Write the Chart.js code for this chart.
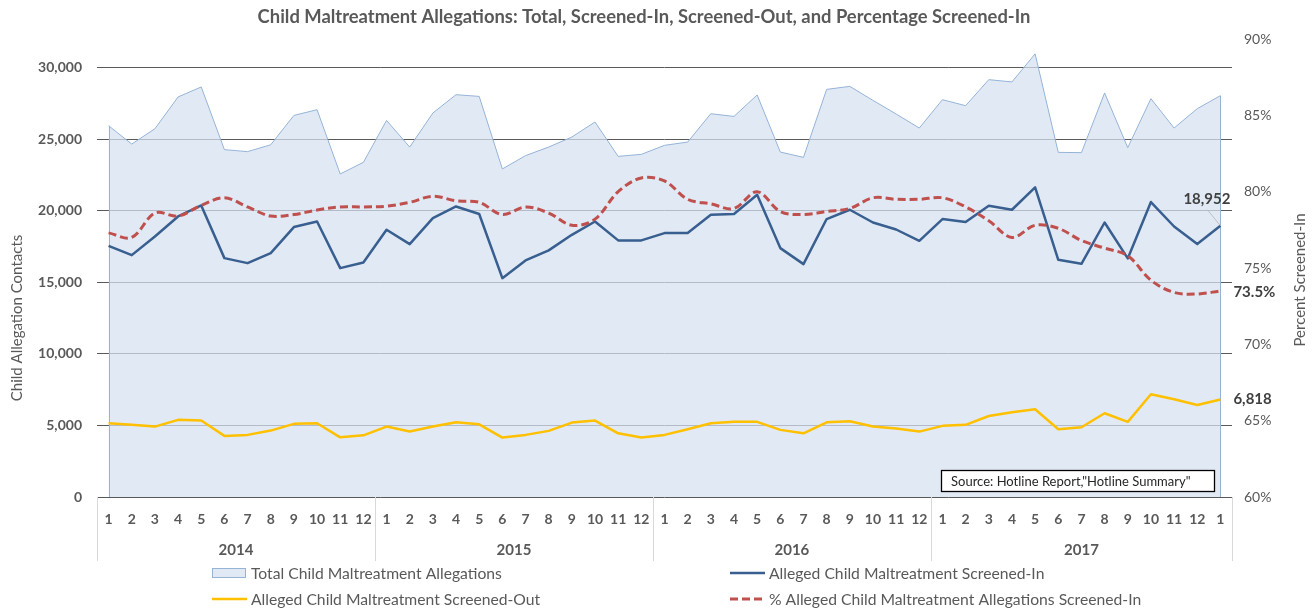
<!DOCTYPE html>
<html>
<head>
<meta charset="utf-8">
<script src="https://cdn.jsdelivr.net/npm/chart.js@4.4.0/dist/chart.umd.min.js"></script>
<style>
  html, body { margin: 0; padding: 0; background: #fff; }
</style>
</head>
<body>
<canvas id="chart" width="1312" height="610"></canvas>
<script>
// --- DATA ---
const months = [1,2,3,4,5,6,7,8,9,10,11,12, 1,2,3,4,5,6,7,8,9,10,11,12,
                1,2,3,4,5,6,7,8,9,10,11,12, 1,2,3,4,5,6,7,8,9,10,11,12, 1];
const years = ['2014', '2015', '2016', '2017'];
const yearSpans = [12, 12, 12, 13];

const totalAllegations = [25940, 24660, 25730, 27950, 28650, 24270, 24130, 24610, 26660, 27060, 22570, 23380,
                          26310, 24450, 26830, 28110, 27990, 22920, 23850, 24450, 25150, 26200, 23800, 23940,
                          24570, 24800, 26780, 26590, 28090, 24100, 23730, 28480, 28690, 27710, 26760, 25780,
                          27760, 27340, 29160, 29000, 30960, 24080, 24060, 28230, 24410, 27830, 25780, 27130, 28040];
const screenedIn = [17550, 16900, 18200, 19600, 20370, 16690, 16340, 17040, 18860, 19250, 15990, 16390,
                    18670, 17670, 19490, 20300, 19770, 15290, 16530, 17230, 18320, 19250, 17930, 17930,
                    18440, 18440, 19720, 19770, 21120, 17390, 16270, 19420, 20070, 19180, 18690, 17900,
                    19420, 19210, 20350, 20070, 21630, 16570, 16290, 19180, 16670, 20610, 18900, 17670, 18952];
const screenedOut = [5150, 5040, 4920, 5390, 5340, 4270, 4340, 4640, 5110, 5150, 4170, 4310,
                     4920, 4570, 4920, 5220, 5080, 4150, 4340, 4620, 5200, 5340, 4450, 4150,
                     4340, 4730, 5150, 5250, 5250, 4690, 4450, 5220, 5290, 4920, 4780, 4570,
                     4970, 5040, 5660, 5920, 6130, 4730, 4870, 5850, 5250, 7180, 6830, 6430, 6818];
const pctScreenedIn = [77.3, 77.0, 78.6, 78.4, 79.1, 79.6, 79.0, 78.4, 78.5, 78.8, 79.0, 79.0,
                       79.05, 79.3, 79.7, 79.4, 79.3, 78.5, 79.0, 78.6, 77.8, 78.2, 80.0, 80.9,
                       80.7, 79.5, 79.2, 78.9, 80.0, 78.7, 78.5, 78.7, 78.9, 79.6, 79.5, 79.5,
                       79.6, 79.0, 78.1, 77.0, 77.8, 77.6, 76.8, 76.3, 75.8, 74.2, 73.4, 73.3, 73.5];

const leftTicks = [0, 5000, 10000, 15000, 20000, 25000, 30000];
const rightTicks = [60, 65, 70, 75, 80, 85, 90];

// --- STYLE ---
const FONT = 'Lato, "Open Sans", sans-serif';
const GRAY = '#595959';
const AREA_FILL = 'rgba(214,225,240,0.72)';
const AREA_LINE = '#95b3d7';
const BLUE = '#385f8f';
const GOLD = '#ffc000';
const RED = '#c0504d';

const labels = months.map(String);

// --- DECORATION PLUGIN (titles, year groups, data labels, legend, source box) ---
const decor = {
  id: 'decor',
  afterDatasetDraw(chart, args) {
    // Excel-style area outline: vertical edges at first and last point
    if (args.index !== 3) return;
    const pts = args.meta.data;
    const base = chart.scales.y.getPixelForValue(0);
    const ctx = chart.ctx;
    ctx.save();
    ctx.strokeStyle = AREA_LINE;
    ctx.lineWidth = 1;
    [pts[0], pts[pts.length - 1]].forEach(p => {
      ctx.beginPath();
      ctx.moveTo(Math.round(p.x) + 0.5, p.y);
      ctx.lineTo(Math.round(p.x) + 0.5, base);
      ctx.stroke();
    });
    ctx.restore();
  },
  afterDraw(chart) {
    const { ctx, chartArea, scales } = chart;
    const x = scales.x;
    ctx.save();

    // chart title
    ctx.fillStyle = GRAY;
    ctx.font = 'bold 18.4px ' + FONT;
    ctx.textAlign = 'center';
    ctx.textBaseline = 'middle';
    ctx.fillText('Child Maltreatment Allegations: Total, Screened-In, Screened-Out, and Percentage Screened-In', 644, 17);

    // axis titles (both read bottom-to-top)
    ctx.font = '15px ' + FONT;
    ctx.save();
    ctx.translate(17, 318);
    ctx.rotate(-Math.PI / 2);
    ctx.fillText('Child Allegation Contacts', 0, 0);
    ctx.restore();
    ctx.save();
    ctx.translate(1300, 280);
    ctx.rotate(-Math.PI / 2);
    ctx.fillText('Percent Screened-In', 0, 0);
    ctx.restore();

    // year group separators + labels
    ctx.strokeStyle = '#d9d9d9';
    ctx.lineWidth = 1;
    const top = chartArea.bottom, bot = chartArea.bottom + 64;
    let start = 0;
    const bounds = [chartArea.left];
    yearSpans.forEach((n, k) => {
      const end = start + n - 1;
      const right = k === yearSpans.length - 1 ? chartArea.right
        : (x.getPixelForValue(end) + x.getPixelForValue(end + 1)) / 2;
      bounds.push(right);
      start += n;
    });
    bounds.forEach(b => {
      ctx.beginPath();
      ctx.moveTo(Math.round(b) + 0.5, top);
      ctx.lineTo(Math.round(b) + 0.5, bot);
      ctx.stroke();
    });
    ctx.fillStyle = GRAY;
    ctx.font = 'bold 15px ' + FONT;
    years.forEach((yr, k) => {
      ctx.fillText(yr, (bounds[k] + bounds[k + 1]) / 2, chartArea.bottom + 53);
    });

    // data labels on the last points
    const last = months.length - 1;
    const pIn = chart.getDatasetMeta(1).data[last];
    const pOut = chart.getDatasetMeta(2).data[last];
    const pPct = chart.getDatasetMeta(0).data[last];
    ctx.font = 'bold 15px ' + FONT;
    ctx.fillStyle = '#404040';
    ctx.textAlign = 'right';
    ctx.fillText(screenedIn[last].toLocaleString('en-US'), pIn.x + 10, pIn.y - 27);
    ctx.strokeStyle = '#bfbfbf';
    ctx.beginPath();
    ctx.moveTo(pIn.x - 13, pIn.y - 16);
    ctx.lineTo(pIn.x, pIn.y);
    ctx.stroke();
    ctx.textAlign = 'left';
    ctx.fillText(screenedOut[last].toLocaleString('en-US'), pOut.x + 13, pOut.y);
    ctx.fillText(pctScreenedIn[last].toFixed(1) + '%', pPct.x + 13, pPct.y + 1);

    // source box
    ctx.fillStyle = '#fff';
    ctx.fillRect(941, 470, 273, 22);
    ctx.strokeStyle = '#000';
    ctx.lineWidth = 1.3;
    ctx.strokeRect(941.5, 470.5, 273, 21);
    ctx.fillStyle = '#262626';
    ctx.font = '13px ' + FONT;
    ctx.textAlign = 'left';
    ctx.fillText('Source: Hotline Report,"Hotline Summary"', 951, 481.5);

    // legend
    const legend = [
      { text: 'Total Child Maltreatment Allegations', x: 212, y: 573, kind: 'area' },
      { text: 'Alleged Child Maltreatment Screened-In', x: 730, y: 573, kind: 'line', color: BLUE },
      { text: 'Alleged Child Maltreatment Screened-Out', x: 212, y: 599, kind: 'line', color: GOLD },
      { text: '% Alleged Child Maltreatment Allegations Screened-In', x: 730, y: 599, kind: 'dash', color: RED }
    ];
    ctx.font = '15.7px ' + FONT;
    legend.forEach(it => {
      if (it.kind === 'area') {
        ctx.fillStyle = AREA_FILL;
        ctx.fillRect(it.x, it.y - 5, 34, 10);
        ctx.strokeStyle = AREA_LINE;
        ctx.lineWidth = 1;
        ctx.strokeRect(it.x + 0.5, it.y - 4.5, 33, 9);
      } else {
        ctx.strokeStyle = it.color;
        ctx.lineWidth = it.kind === 'dash' ? 3 : 2.5;
        ctx.setLineDash(it.kind === 'dash' ? [8, 4] : []);
        ctx.beginPath();
        ctx.moveTo(it.x, it.y);
        ctx.lineTo(it.x + 35, it.y);
        ctx.stroke();
        ctx.setLineDash([]);
      }
      ctx.fillStyle = GRAY;
      ctx.fillText(it.text, it.x + 39, it.y + 1);
    });

    ctx.restore();
  }
};

new Chart(document.getElementById('chart').getContext('2d'), {
  type: 'line',
  data: {
    labels: labels,
    datasets: [
      { label: '% Alleged Child Maltreatment Allegations Screened-In', data: pctScreenedIn, yAxisID: 'y1',
        borderColor: RED, borderWidth: 3, borderDash: [8, 4], tension: 0.35, pointRadius: 0, fill: false },
      { label: 'Alleged Child Maltreatment Screened-In', data: screenedIn, yAxisID: 'y',
        borderColor: BLUE, borderWidth: 2.5, tension: 0, pointRadius: 0, fill: false, borderJoinStyle: 'round' },
      { label: 'Alleged Child Maltreatment Screened-Out', data: screenedOut, yAxisID: 'y',
        borderColor: GOLD, borderWidth: 2.5, tension: 0, pointRadius: 0, fill: false, borderJoinStyle: 'round' },
      { label: 'Total Child Maltreatment Allegations', data: totalAllegations, yAxisID: 'y',
        borderColor: AREA_LINE, backgroundColor: AREA_FILL, borderWidth: 1, tension: 0, pointRadius: 0, fill: 'origin' }
    ]
  },
  options: {
    responsive: false,
    animation: false,
    layout: { padding: { top: 39, left: 0, right: 0, bottom: 0 } },
    plugins: { legend: { display: false }, title: { display: false }, tooltip: { enabled: false } },
    scales: {
      x: {
        type: 'category', offset: true,
        grid: { display: false, drawTicks: false },
        border: { display: false },
        ticks: { color: GRAY, font: { family: FONT, size: 14, weight: 'bold' }, padding: 14, maxRotation: 0, autoSkip: false },
        afterFit: s => { s.height = 113; }
      },
      y: {
        position: 'left', min: 0, max: 32000,
        grid: { color: GRAY, lineWidth: 1, drawTicks: false },
        border: { display: false },
        afterBuildTicks: s => { s.ticks = leftTicks.map(v => ({ value: v })); },
        ticks: { color: GRAY, font: { family: FONT, size: 14, weight: 'bold' }, padding: 15,
                 callback: v => Number(v).toLocaleString('en-US') },
        afterFit: s => { s.width = 97; }
      },
      y1: {
        position: 'right', min: 60, max: 90,
        grid: { display: false, drawTicks: false },
        border: { display: false },
        afterBuildTicks: s => { s.ticks = rightTicks.map(v => ({ value: v })); },
        ticks: { color: GRAY, font: { family: FONT, size: 14 }, padding: 12, callback: v => v + '%' },
        afterFit: s => { s.width = 80; }
      }
    }
  },
  plugins: [decor]
});
</script>
</body>
</html>
